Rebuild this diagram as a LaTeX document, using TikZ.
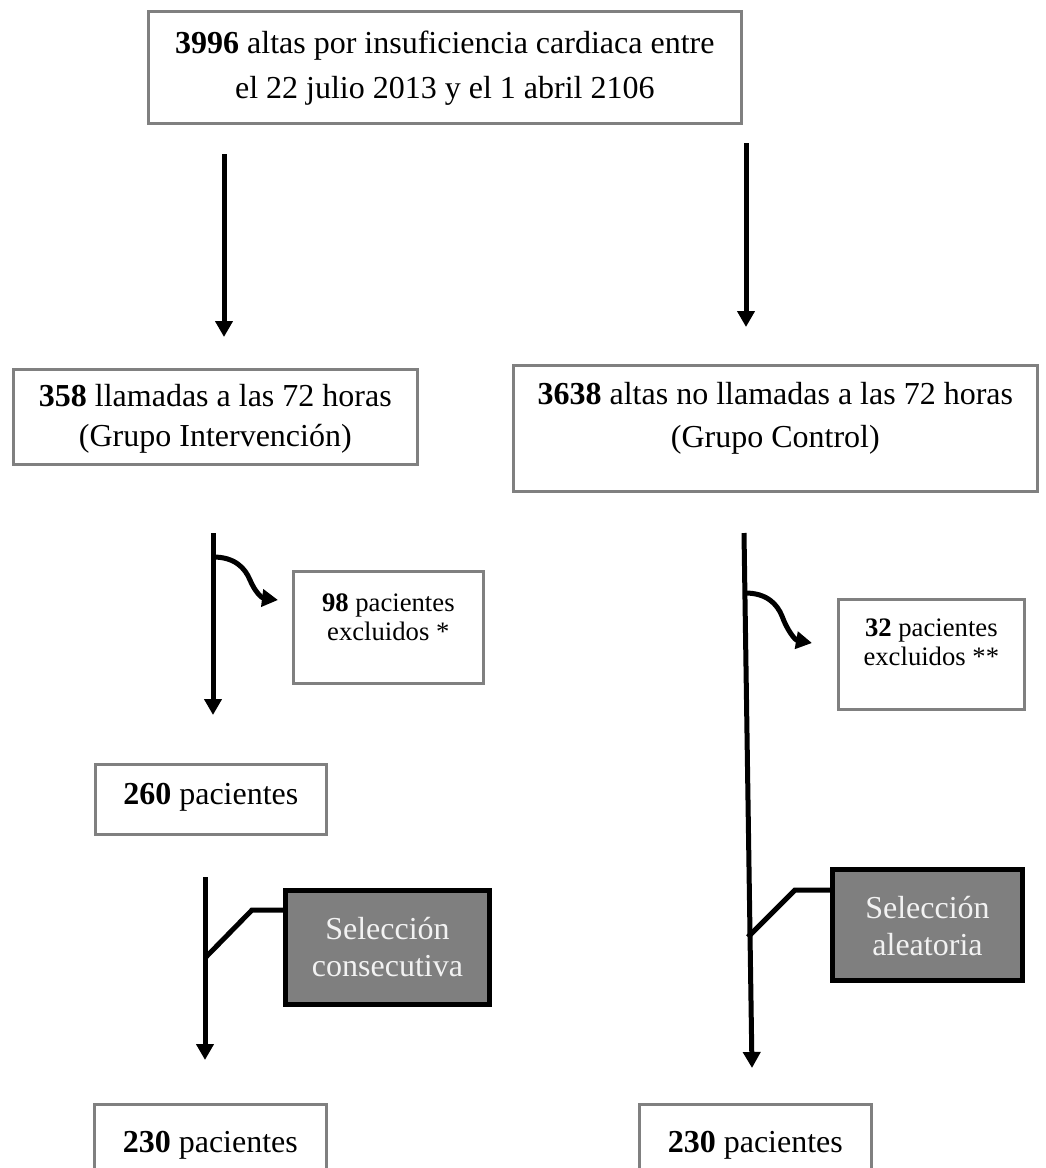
\documentclass[tikz,border=0pt]{standalone}
\usepackage{fontspec}
\setmainfont{Liberation Serif}
\usetikzlibrary{arrows.meta}
\definecolor{boxgray}{HTML}{808080}
\definecolor{selgray}{HTML}{7F7F7F}
\definecolor{seltext}{HTML}{F2F2F2}
% #1 width, #2 height, #3 first baseline, #4 font, #5 text
\newcommand\boxcontent[5]{\parbox[c][#2][t]{#1}{\centering #4\rule{0pt}{#3}#5\par}}
\newcommand\fbig{\fontsize{24}{30}\selectfont}
\newcommand\fbigw{\fontsize{24}{32.25}\selectfont}
\newcommand\ftop{\fontsize{24}{33.75}\selectfont}
\newcommand\fsmall{\fontsize{20}{21.75}\selectfont}
\newcommand\fsel{\fontsize{24}{27.75}\selectfont\color{seltext}}
\tikzset{
  box/.style={draw=boxgray, line width=2pt, inner sep=0pt, anchor=north west},
  selbox/.style={draw=black, fill=selgray, line width=3.75pt, inner sep=0pt, anchor=north west},
  arr/.style={line width=3.75pt, -{Triangle[length=12pt,width=12.75pt]}},
  plain/.style={line width=3.75pt}
}
\begin{document}
\begin{tikzpicture}[x=0.75pt,y=-0.75pt]
\path[use as bounding box] (0,0) rectangle (1046,1168);
\fill[white] (0,0) rectangle (1046,1168);
\clip (0,0) rectangle (1046,1168);

% boxes
\node[box] (top) at (147,10) {\boxcontent{444.75pt}{84pt}{31.5pt}{\ftop}{\textbf{3996} altas por insuficiencia cardiaca entre\\ el 22 julio 2013 y el 1 abril 2106}};
\node[box] (inter) at (12,368) {\boxcontent{303pt}{71.25pt}{27.75pt}{\fbig}{\textbf{358} llamadas a las 72 horas\\ (Grupo Intervención)}};
\node[box] (ctrl) at (512,364) {\boxcontent{393pt}{94.5pt}{29.25pt}{\fbigw}{\textbf{3638} altas no llamadas a las 72 horas\\ (Grupo Control)}};
\node[box] (exA) at (292,570) {\boxcontent{142.5pt}{84pt}{30pt}{\fsmall}{\textbf{98} pacientes\\ excluidos *}};
\node[box] (exB) at (837,598) {\boxcontent{139.5pt}{82.5pt}{27.75pt}{\fsmall}{\textbf{32} pacientes\\ excluidos **}};
\node[box] (p260) at (94,763) {\boxcontent{173.25pt}{52.5pt}{30pt}{\fbig}{\textbf{260} pacientes}};
\node[selbox] (selA) at (283,888) {\boxcontent{153pt}{85.5pt}{36.75pt}{\fsel}{Selección\\ consecutiva}};
\node[selbox] (selB) at (830,867) {\boxcontent{142.5pt}{83.25pt}{36.75pt}{\fsel}{Selección\\ aleatoria}};
\node[box] (fA) at (93,1103) {\boxcontent{174pt}{75pt}{36pt}{\fbig}{\textbf{230} pacientes}};
\node[box] (fB) at (638,1103) {\boxcontent{174pt}{75pt}{36pt}{\fbig}{\textbf{230} pacientes}};

% connector end points
\coordinate (a1s) at (224,154);
\coordinate (a1e) at (224,337);
\coordinate (a2s) at (746,143);
\coordinate (a2e) at (746,327);
\coordinate (a3s) at (213,533);
\coordinate (a3e) at (213,715);
\coordinate (c1s) at (213,557);
\coordinate (c1e) at (278,600);
\coordinate (a4s) at (744,533);
\coordinate (a4e) at (752,1068);
\coordinate (c2s) at (745,593);
\coordinate (c2e) at (812,643);
\coordinate (a5s) at (205,877);
\coordinate (a5e) at (205,1060);
\coordinate (jA) at (205,958);
\coordinate (kA) at (252,910);
\coordinate (jB) at (748,937);
\coordinate (kB) at (795,890);

\draw[arr] (a1s) -- (a1e);
\draw[arr] (a2s) -- (a2e);
\draw[arr] (a3s) -- (a3e);
\draw[arr] (c1s) .. controls (235,557) and (245,568) .. (250,580) .. controls (255,592) and (262,598) .. (c1e);
\draw[arr] (a4s) -- (a4e);
\draw[arr] (c2s) .. controls (767,593) and (777,604) .. (782,616) .. controls (787,630) and (795,640) .. (c2e);
\draw[arr] (a5s) -- (a5e);
\draw[plain] (jA) -- (kA) -- (kA -| selA.west);
\draw[plain] (jB) -- (kB) -- (kB -| selB.west);
\end{tikzpicture}
\end{document}
